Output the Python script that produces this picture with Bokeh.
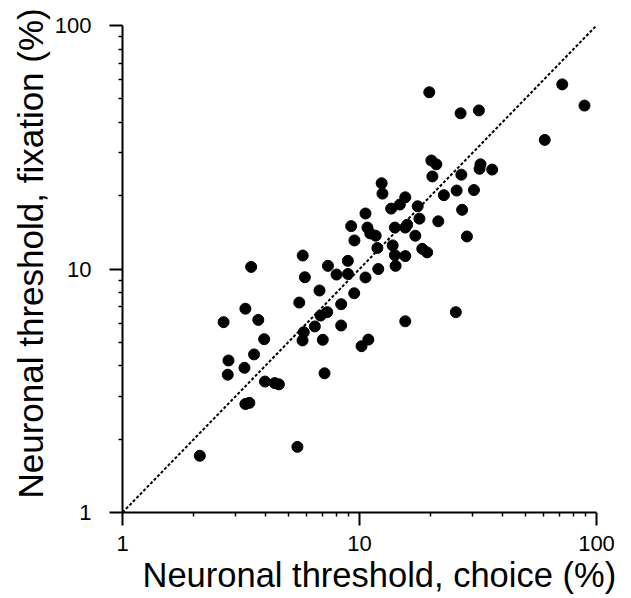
from bokeh.plotting import figure
from bokeh.models import Range1d, FixedTicker, PrintfTickFormatter, ColumnDataSource, Title
from bokeh.embed import file_html
from bokeh.resources import INLINE

# Neuronal thresholds (%)
choice = [2.12, 5.47, 3.30, 3.43, 3.99, 4.39, 4.57, 2.78, 3.27, 2.80,
          3.59, 3.96, 2.67, 3.74, 3.30, 3.49, 5.57, 5.76, 5.88, 6.78,
          5.82, 5.75, 6.48, 6.85, 7.31, 7.00, 7.12, 7.36, 8.00, 8.94,
          8.93, 9.50, 8.37, 8.37, 10.2, 10.9, 10.6, 12.0, 14.2, 15.6,
          25.5, 9.52, 9.22, 10.6, 10.8, 11.1, 11.7, 11.9, 13.8, 14.1,
          15.6, 14.1, 15.6, 15.9, 13.6, 14.8, 15.6, 17.6, 17.9, 17.2,
          18.4, 19.3, 21.5, 12.4, 12.5, 19.7, 20.1, 21.1, 20.3, 22.7,
          25.7, 30.4, 26.9, 32.1, 32.4, 36.3, 27.1, 28.4, 26.7, 31.9,
          60.5, 71.7, 89.0]
fixation = [1.71, 1.86, 2.79, 2.82, 3.45, 3.40, 3.36, 3.68, 3.93, 4.21,
            4.46, 5.15, 6.05, 6.18, 6.87, 10.2, 7.28, 11.36, 9.25, 8.16,
            5.50, 5.09, 5.81, 6.44, 6.65, 5.12, 3.73, 10.3, 9.49, 9.54,
            10.8, 7.95, 7.17, 5.86, 4.82, 5.13, 9.23, 10.0, 10.3, 6.10,
            6.65, 13.1, 15.0, 16.9, 14.8, 14.0, 13.7, 12.2, 12.5, 11.4,
            11.3, 14.8, 14.8, 15.2, 17.7, 18.4, 19.7, 18.1, 16.1, 13.7,
            12.1, 11.7, 15.7, 22.5, 20.4, 53.2, 27.9, 26.9, 24.0, 20.1,
            21.0, 21.1, 24.4, 25.8, 26.9, 25.6, 17.5, 13.6, 43.6, 44.8,
            33.9, 57.3, 46.9]
unity = [1, 100]
major_ticks = [1, 10, 100]
minor_ticks = [2, 3, 4, 5, 6, 7, 8, 9, 20, 30, 40, 50, 60, 70, 80, 90]
x_label = "Neuronal threshold, choice (%)"
y_label = "Neuronal threshold, fixation (%)"

p = figure(width=631, height=598, x_axis_type="log", y_axis_type="log",
           x_range=Range1d(1, 100), y_range=Range1d(1, 100),
           output_backend="svg", toolbar_location=None,
           min_border_left=122, min_border_right=35,
           min_border_top=25, min_border_bottom=86)
p.outline_line_color = None
p.grid.visible = False
p.background_fill_color = "white"
p.border_fill_color = "white"

p.line(unity, unity, line_color="black", line_width=2, line_dash="3 2")
src = ColumnDataSource(dict(x=choice, y=fixation))
p.scatter("x", "y", source=src, size=11, fill_color="black", line_color="black")

for ax in (p.xaxis[0], p.yaxis[0]):
    ax.ticker = FixedTicker(ticks=major_ticks, minor_ticks=minor_ticks)
    ax.formatter = PrintfTickFormatter(format="%d")
    ax.axis_line_color = "black"
    ax.axis_line_width = 2
    ax.major_tick_line_color = "black"
    ax.major_tick_line_width = 2
    ax.major_tick_out = 13
    ax.major_tick_in = 0
    ax.minor_tick_line_color = "black"
    ax.minor_tick_line_width = 1.5
    ax.minor_tick_out = 4
    ax.minor_tick_in = 0
    ax.major_label_text_font = "Liberation Sans"
    ax.major_label_text_font_size = "22px"
    ax.major_label_text_color = "black"

p.xaxis.major_label_standoff = 10
p.yaxis.major_label_standoff = 18

p.add_layout(Title(text=x_label, align="left", offset=20, standoff=0,
                   text_font="Liberation Sans", text_font_size="34.5px",
                   text_font_style="normal", text_color="black"), "below")
p.add_layout(Title(text=y_label, align="left", offset=14, standoff=3,
                   text_font="Liberation Sans", text_font_size="35px",
                   text_font_style="normal", text_color="black"), "left")

open("out.html", "w").write(file_html(p, INLINE))
